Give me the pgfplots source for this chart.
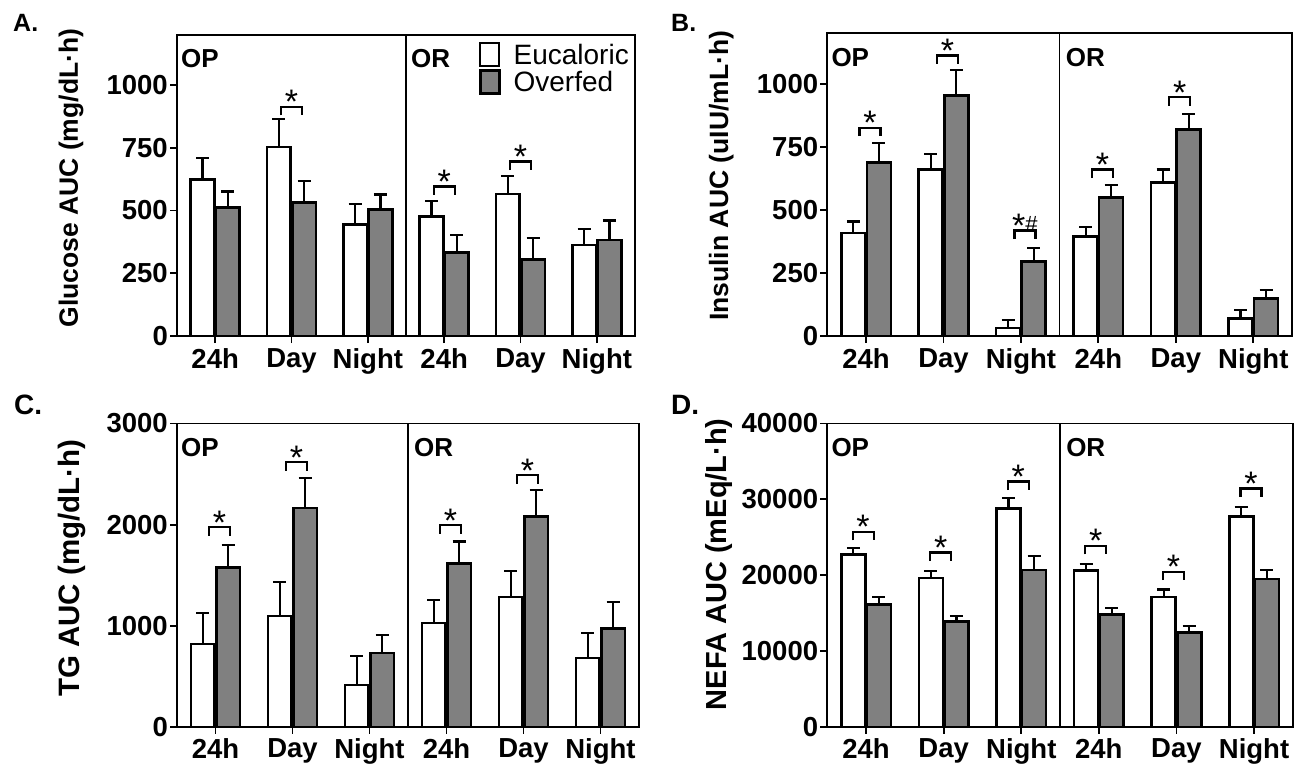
\documentclass[border=0pt]{standalone}
\usepackage{fontspec}
\setmainfont{Liberation Sans}
\usepackage{pgfplots}
\pgfplotsset{compat=1.18}

\newcommand\ticfont{\fontsize{27.5}{27.5}\selectfont\bfseries}
\newcommand\grpfont{\fontsize{26}{26}\selectfont\bfseries}
\newcommand\starfont{\fontsize{34}{34}\selectfont}
\newcommand\legfont{\fontsize{28}{28}\selectfont}

\newcommand{\sig}[4][0]{%
  \draw[line width=2.2pt] ([xshift=#1pt-10.5pt,yshift=-8.5pt]axis cs:#2,#3) -- ++(0pt,8.5pt) -- ++(21pt,0pt) -- ++(0pt,-8.5pt);
  \node[anchor=base,inner sep=0pt,font=\starfont] at ([xshift=#1pt,yshift=-7pt]axis cs:#2,#3) {#4};%
}

\pgfplotsset{
  panel/.style={
    scale only axis, clip=false,
    xmin=-0.5, xmax=5.5, ymin=0,
    axis line style={line width=1.8pt},
    xtick={0,1,2,3,4,5}, xticklabels={24h,Day,Night,24h,Day,Night},
    tick align=outside, tick pos=left,
    major tick length=7pt,
    tick style={line width=1.8pt, black},
    tick label style={font=\ticfont},
    /pgf/number format/assume math mode=true,
    /pgf/number format/1000 sep={},
    yticklabel style={inner sep=2pt},
    xticklabel style={inner sep=1pt, yshift=-4pt},
  },
  euc/.style={ybar, bar width=0.31, bar shift=0pt, fill=white, draw=black, line width=2.6pt,
    legend image code/.code={\draw[fill=white,draw=black,line width=2.2pt] (0pt,-11.5pt) rectangle (19pt,11.5pt);},
    error bars/y dir=plus, error bars/y explicit,
    error bars/error bar style={line width=2.2pt,black},
    error bars/error mark options={rotate=90,line width=2.2pt,black,mark size=6.5pt}},
  ovf/.style={ybar, bar width=0.31, bar shift=0pt, fill=gray, draw=black, line width=2.6pt,
    legend image code/.code={\draw[fill=gray,draw=black,line width=2.8pt] (0pt,-11.5pt) rectangle (19pt,11.5pt);},
    error bars/y dir=plus, error bars/y explicit,
    error bars/error bar style={line width=2.2pt,black},
    error bars/error mark options={rotate=90,line width=2.2pt,black,mark size=6.5pt}},
}

\begin{document}
\begin{tikzpicture}
\useasboundingbox (0pt,0pt) rectangle (1305pt,769pt);

\node[anchor=base west,inner sep=0pt,font=\fontsize{25}{25}\selectfont\bfseries] at (13pt,737pt) {A.};
\node[anchor=base west,inner sep=0pt,font=\fontsize{25}{25}\selectfont\bfseries] at (671pt,737pt) {B.};
\node[anchor=base west,inner sep=0pt,font=\fontsize{28}{28}\selectfont\bfseries] at (14pt,355pt) {C.};
\node[anchor=base west,inner sep=0pt,font=\fontsize{28}{28}\selectfont\bfseries] at (671pt,355pt) {D.};

% ---------------- A: Glucose
\begin{axis}[panel, at={(177pt,433pt)}, anchor=south west, width=458pt, height=301.2pt,
  ymax=1200, ytick={0,250,500,750,1000},
  ylabel={Glucose AUC (mg/dL·h)},
  ylabel style={font=\fontsize{26.5}{26.5}\selectfont\bfseries, at={(axis description cs:-0.2162,0.524)}, anchor=base},
  legend cell align=left,
  legend style={at={(axis description cs:0.659,0.976)}, anchor=north west, draw=none, fill=none,
    inner sep=0pt, outer sep=0pt, row sep=2pt, font=\legfont, nodes={inner sep=0pt, anchor=west},
    /tikz/every odd column/.append style={column sep=13pt}},
]
\addplot[euc] table[x=x,y=y,y error=e] {
x y e
-0.165 624 85
0.835 753 110
1.835 445 82
2.835 476 61
3.835 565 72
4.835 363 64
};
\addplot[ovf] table[x=x,y=y,y error=e] {
x y e
0.165 511 65
1.165 531 85
2.165 504 60
3.165 333 68
4.165 305 84
5.165 383 77
};
\legend{Eucaloric,Overfed}
\draw[line width=1.2pt] (rel axis cs:0.5,0) -- (rel axis cs:0.5,1);
\node[anchor=base west,inner sep=0pt,font=\grpfont] at ([xshift=4pt,yshift=-33pt]rel axis cs:0,1) {OP};
\node[anchor=base west,inner sep=0pt,font=\grpfont] at ([xshift=5pt,yshift=-33pt]rel axis cs:0.5,1) {OR};
\sig{1}{913}{*}
\sig{3}{596}{*}
\sig{4}{695}{*}
\end{axis}

% ---------------- B: Insulin
\begin{axis}[panel, at={(827.3pt,433pt)}, anchor=south west, width=464.7pt, height=302.7pt,
  ymax=1200, ytick={0,250,500,750,1000},
  ylabel={Insulin AUC (uIU/mL·h)},
  ylabel style={font=\fontsize{26.5}{26.5}\selectfont\bfseries, at={(axis description cs:-0.2137,0.529)}, anchor=base},
]
\addplot[euc] table[x=x,y=y,y error=e] {
x y e
-0.165 409 45
0.835 661 60
1.835 31 33
2.835 394 38
3.835 608 52
4.835 69 33
};
\addplot[ovf] table[x=x,y=y,y error=e] {
x y e
0.165 687 77
1.165 954 99
2.165 295 54
3.165 550 48
4.165 819 60
5.165 149 34
};
\draw[line width=1.2pt] (rel axis cs:0.5,0) -- (rel axis cs:0.5,1);
\node[anchor=base west,inner sep=0pt,font=\grpfont] at ([xshift=4pt,yshift=-33pt]rel axis cs:0,1) {OP};
\node[anchor=base west,inner sep=0pt,font=\grpfont] at ([xshift=6pt,yshift=-33pt]rel axis cs:0.5,1) {OR};
\sig[4]{0}{826}{*}
\sig[4]{1}{1112}{*}
\sig[4]{2}{418}{*\raisebox{6.5pt}{\fontsize{22}{22}\selectfont\#}}
\sig[4]{3}{660}{*}
\sig[4]{4}{947}{*}
\end{axis}

% ---------------- C: TG
\begin{axis}[panel, at={(177pt,42.2pt)}, anchor=south west, width=462pt, height=303.3pt,
  ymax=3000, ytick={0,1000,2000,3000},
  ylabel={TG AUC (mg/dL·h)},
  ylabel style={font=\fontsize{29.5}{29.5}\selectfont\bfseries, at={(axis description cs:-0.211,0.523)}, anchor=base},
]
\addplot[euc] table[x=x,y=y,y error=e] {
x y e
-0.165 819 305
0.835 1097 335
1.835 414 285
2.835 1028 228
3.835 1283 258
4.835 679 246
};
\addplot[ovf] table[x=x,y=y,y error=e] {
x y e
0.165 1574 226
1.165 2164 295
2.165 729 176
3.165 1617 216
4.165 2082 258
5.165 971 265
};
\draw[line width=1.2pt] (rel axis cs:0.5,0) -- (rel axis cs:0.5,1);
\node[anchor=base west,inner sep=0pt,font=\grpfont] at ([xshift=4pt,yshift=-33pt]rel axis cs:0,1) {OP};
\node[anchor=base west,inner sep=0pt,font=\grpfont] at ([xshift=6pt,yshift=-33pt]rel axis cs:0.5,1) {OR};
\sig[4]{0}{1975}{*}
\sig[4]{1}{2618}{*}
\sig[4]{3}{1995}{*}
\sig[4]{4}{2489}{*}
\end{axis}

% ---------------- D: NEFA
\begin{axis}[panel, at={(827.3pt,42.2pt)}, anchor=south west, width=465.5pt, height=303.3pt,
  ymax=40000, ytick={0,10000,20000,30000,40000},
  scaled y ticks=false,
  ylabel={NEFA AUC (mEq/L·h)},
  ylabel style={font=\fontsize{29}{29}\selectfont\bfseries, at={(axis description cs:-0.2176,0.536)}, anchor=base},
]
\addplot[euc] table[x=x,y=y,y error=e] {
x y e
-0.165 22700 900
0.835 19600 900
1.835 28800 1400
2.835 20600 900
3.835 17100 1000
4.835 27700 1300
};
\addplot[ovf] table[x=x,y=y,y error=e] {
x y e
0.165 16100 1000
1.165 13900 750
2.165 20700 1800
3.165 14800 850
4.165 12400 900
5.165 19500 1150
};
\draw[line width=1.2pt] (rel axis cs:0.5,0) -- (rel axis cs:0.5,1);
\node[anchor=base west,inner sep=0pt,font=\grpfont] at ([xshift=4pt,yshift=-33pt]rel axis cs:0,1) {OP};
\node[anchor=base west,inner sep=0pt,font=\grpfont] at ([xshift=6pt,yshift=-33pt]rel axis cs:0.5,1) {OR};
\sig[-3]{0}{25700}{*}
\sig[-3]{1}{23000}{*}
\sig[-3]{2}{32350}{*}
\sig[-3]{3}{23870}{*}
\sig[-3]{4}{20460}{*}
\sig[-3]{5}{31430}{*}
\end{axis}
\end{tikzpicture}
\end{document}
